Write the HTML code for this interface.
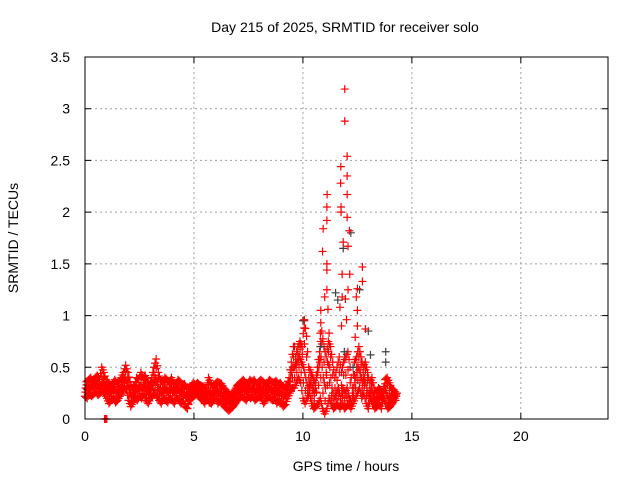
<!DOCTYPE html>
<html><head><meta charset="utf-8"><style>
body{margin:0;background:#fff}
svg{display:block;font-family:"Liberation Sans",sans-serif;font-size:14px}
</style></head><body>
<svg id="chart" width="640" height="480" xmlns="http://www.w3.org/2000/svg">
<text x="345" y="32" text-anchor="middle">Day 215 of 2025, SRMTID for receiver solo</text>
<text x="346" y="471" text-anchor="middle">GPS time / hours</text>
<text transform="translate(18,238) rotate(-90)" text-anchor="middle">SRMTID / TECUs</text>
<g id="grid"></g><g id="marks"></g><g id="axes"></g>
</svg>
<script>
const xTicks=[0,5,10,15,20];
const yTicks=[0,0.5,1,1.5,2,2.5,3,3.5];
const yTickLabels=["0","0.5","1","1.5","2","2.5","3","3.5"];
const baseTimes=[0,0.1,0.2,0.3,0.4,0.5,0.6,0.7,0.8,0.9,1,1.1,1.2,1.3,1.4,1.5,1.6,1.7,1.8,1.9,2,2.1,2.2,2.3,2.4,2.5,2.6,2.7,2.8,2.9,3,3.1,3.2,3.3,3.4,3.5,3.6,3.7,3.8,3.9,4,4.1,4.2,4.3,4.4,4.5,4.6,4.7,4.8,4.9,5,5.1,5.2,5.3,5.4,5.5,5.6,5.7,5.8,5.9,6,6.1,6.2,6.3,6.4,6.5,6.6,6.7,6.8,6.9,7,7.1,7.2,7.3,7.4,7.5,7.6,7.7,7.8,7.9,8,8.1,8.2,8.3,8.4,8.5,8.6,8.7,8.8,8.9,9,9.1,9.2,9.3,9.4,9.5];
const baseLow=[.22,.2,.25,.22,.24,.26,.23,.25,.28,.24,.2,.15,.18,.2,.16,.18,.22,.25,.3,.28,.18,.12,.16,.2,.18,.22,.2,.24,.18,.15,.2,.22,.25,.22,.18,.15,.2,.18,.16,.2,.18,.15,.2,.18,.15,.17,.12,.1,.18,.2,.22,.24,.22,.2,.18,.15,.2,.16,.15,.18,.2,.15,.18,.15,.12,.1,.08,.1,.12,.15,.18,.2,.22,.2,.18,.22,.2,.22,.18,.2,.22,.2,.15,.18,.22,.2,.18,.2,.15,.18,.15,.12,.14,.2,.25,.3];
const baseMid=[.3,.28,.32,.3,.33,.35,.3,.32,.36,.3,.28,.25,.26,.3,.25,.27,.3,.35,.4,.35,.28,.22,.25,.3,.28,.32,.3,.33,.28,.25,.3,.35,.4,.33,.28,.25,.3,.28,.26,.3,.27,.25,.3,.27,.25,.26,.22,.2,.25,.28,.28,.3,.28,.27,.25,.22,.27,.25,.24,.26,.28,.25,.26,.22,.2,.18,.15,.18,.2,.24,.26,.28,.3,.28,.26,.3,.28,.3,.26,.28,.3,.28,.25,.27,.3,.28,.26,.28,.25,.27,.24,.22,.25,.32,.4,.5];
const baseHigh=[.36,.38,.4,.36,.4,.42,.38,.5,.45,.38,.35,.32,.34,.38,.35,.36,.4,.45,.52,.45,.36,.3,.32,.4,.38,.45,.4,.42,.36,.33,.4,.5,.58,.45,.38,.35,.4,.38,.35,.4,.35,.33,.38,.36,.33,.34,.3,.3,.32,.35,.33,.35,.33,.32,.3,.3,.4,.35,.32,.34,.36,.35,.34,.3,.28,.25,.22,.25,.28,.32,.34,.36,.38,.35,.34,.38,.36,.38,.34,.36,.38,.36,.34,.35,.38,.36,.35,.37,.34,.35,.32,.3,.33,.4,.55,.7];
const spikeTimes=[9.6,9.7,9.8,9.9,10,10.1,10.2,10.3,10.4,10.5,10.6,10.7,10.8,10.9,11,11.1,11.2,11.3,11.4,11.5,11.6,11.7,11.8,11.9,12,12.1,12.2,12.3,12.4,12.5,12.6,12.7,12.8,12.9,13,13.1,13.2,13.3,13.4,13.5,13.6,13.7,13.8,13.9,14,14.1,14.2];
const spikeLow=[.3,.35,.4,.35,.2,.15,.2,.25,.15,.1,.12,.15,.2,.1,.05,.1,.2,.15,.1,.12,.15,.1,.15,.1,.12,.15,.1,.15,.2,.25,.3,.2,.25,.15,.1,.2,.15,.1,.12,.15,.1,.2,.15,.1,.12,.15,.18];
const spikeMid=[.5,.55,.6,.55,.5,.4,.3,.35,.3,.25,.4,.5,.6,.4,.3,.55,.5,.3,.2,.25,.3,.2,.3,.25,.3,.2,.15,.3,.4,.5,.45,.35,.4,.3,.2,.3,.22,.18,.2,.22,.2,.3,.25,.2,.2,.2,.22];
const spikeHigh=[.6,.7,.75,.7,.95,.8,.5,.45,.4,.35,.5,.65,.85,.7,.6,.75,.7,.55,.4,.5,.6,.45,.55,.6,.65,.5,.3,.55,.6,.7,.6,.5,.55,.45,.35,.4,.3,.25,.3,.28,.25,.38,.4,.35,.3,.28,.25];
const peakTimes=[11.92,11.92,12.03,11.74,12.03,11.73,11.11,11.1,11.75,11.75,12.03,12.03,11.1,10.93,12.13,11.85,12.07,10.9,11.1,11.1,12.73,12.73,11.8,12.15,12.07,11.1,12.5,11.0,11.8,11.95,12.45,10.82,11.15,11.7,12.5,10.06,10.06,10.82,11.77,12.0,12.5,11.2,10.8,12.87,12.4,0.9,0.95,1.0];
const peakValues=[3.19,2.88,2.54,2.44,2.35,2.28,2.17,2.05,2.05,2.0,2.17,1.95,1.92,1.84,1.82,1.71,1.67,1.62,1.5,1.44,1.47,1.33,1.4,1.4,1.25,1.25,1.26,1.18,1.18,1.16,1.18,1.05,1.06,1.08,1.05,0.96,0.88,0.93,0.9,0.96,0.9,0.83,0.83,0.87,0.79,0,0,0];
const grayTimes=[12.2,11.85,11.5,12.6,13.0,13.8,13.8,10.0,11.9,10.8,12.3,13.1,11.6];
const grayValues=[1.8,1.65,1.22,1.25,0.85,0.65,0.55,0.95,0.65,0.7,0.5,0.62,1.15];
const X0=85,X1=608,Y0=419,Y1=57,XMAX=24,YMAX=3.5;
const xs=t=>X0+(X1-X0)*t/XMAX, ys=v=>Y0-(Y0-Y1)*v/YMAX;
const NS="http://www.w3.org/2000/svg";
function mk(tag,attrs,parent){const e=document.createElementNS(NS,tag);for(const k in attrs)e.setAttribute(k,attrs[k]);parent.appendChild(e);return e;}
const grid=document.getElementById('grid'),marks=document.getElementById('marks'),axes=document.getElementById('axes');
xTicks.forEach((t,i)=>{
 if(t>0){const g=mk('line',{x1:xs(t),x2:xs(t),y1:Y0,y2:Y1,stroke:'#a0a0a0','stroke-dasharray':'2,3'},grid);
 
 }
 const tk=mk('path',{d:`M${xs(t)},${Y0}v-6M${xs(t)},${Y1}v6`,stroke:'#000'},axes);
 
 
 const l=mk('text',{x:xs(t),y:Y0+22,'text-anchor':'middle'},axes);l.textContent=String(t);
 
 
});
yTicks.forEach((v,i)=>{
 if(v>0&&v<YMAX){const g=mk('line',{x1:X0,x2:X1,y1:ys(v),y2:ys(v),stroke:'#a0a0a0','stroke-dasharray':'2,3'},grid);
 
 }
 const tk=mk('path',{d:`M${X0},${ys(v)}h6M${X1},${ys(v)}h-6`,stroke:'#000'},axes);
 
 
 const l=mk('text',{x:X0-15,y:ys(v)+5,'text-anchor':'end'},axes);l.textContent=yTickLabels[i];
 
 
});
const border=mk('rect',{x:X0,y:Y1,width:X1-X0,height:Y0-Y1,fill:'none',stroke:'#000'},axes);


function plus(t,v,color,name){
 const x=xs(t),y=ys(v);
 const p=mk('path',{d:`M${x-4},${y}h8M${x},${y-4}v8`,stroke:color,'stroke-width':1.2},marks);
 
 
}
function series(times,arrs,color,name){
 times.forEach((t,i)=>{
  const n=Math.min(i+1,times.length-1);
  arrs.forEach((a,j)=>{
   plus(t+j*0.033,a[i],color,name);
   plus(t+j*0.033+0.05,(a[i]+a[n])/2,color,name);
  });
  plus(t+0.02,(arrs[0][i]+arrs[1][i])/2,color,name);
  plus(t+0.07,(arrs[1][i]+arrs[2][i])/2,color,name);
 });
}
series(baseTimes,[baseLow,baseMid,baseHigh],'#ff0000','srmtid-point');
series(spikeTimes,[spikeLow,spikeMid,spikeHigh],'#ff0000','srmtid-point');
grayTimes.forEach((t,i)=>plus(t,grayValues[i],'#404040','srmtid-point-alt'));
peakTimes.forEach((t,i)=>plus(t,peakValues[i],'#ff0000','srmtid-peak-point'));
</script>
</body></html>
